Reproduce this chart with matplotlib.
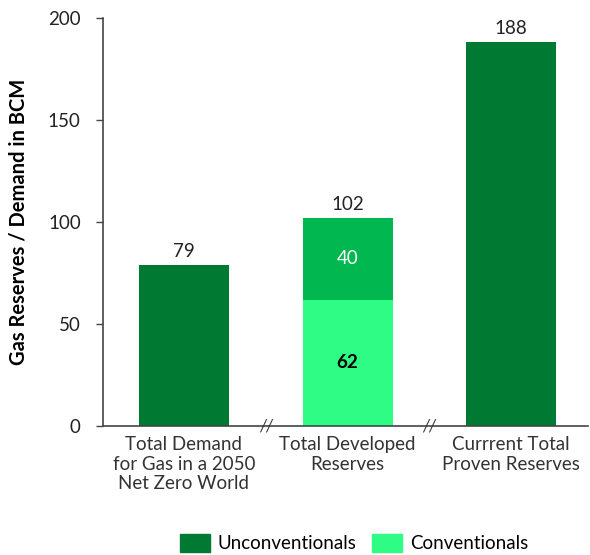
import matplotlib
matplotlib.use("Agg")
import matplotlib.pyplot as plt
from matplotlib.patches import Patch

categories = ["Total Demand\nfor Gas in a 2050\nNet Zero World",
              "Total Developed\nReserves",
              "Currrent Total\nProven Reserves"]
conventionals = [0, 62, 0]
unconventionals = [79, 40, 188]
totals = [79, 102, 188]
y_ticks = [0, 50, 100, 150, 200]

dark = "#007a33"
mid = "#00b84f"
light = "#2efc84"
text_col = "#222222"
fs = 13.5

plt.rcParams["font.family"] = ["Lato", "DejaVu Sans"]

fig = plt.figure(figsize=(5.9, 5.55), dpi=100)
ax = fig.add_axes([103 / 590, 1 - 426 / 555, (588 - 103) / 590, (426 - 18) / 555])

x = list(range(len(categories)))
width = 0.55
ax.bar(x, conventionals, width, color=light, zorder=2)
ax.bar(x, unconventionals, width, bottom=conventionals,
       color=[dark, mid, dark], zorder=2)

for xi, t in zip(x, totals):
    ax.text(xi, t + 2.5, str(t), ha="center", va="bottom", fontsize=fs, color=text_col)
ax.text(1, conventionals[1] + unconventionals[1] / 2, str(unconventionals[1]),
        ha="center", va="center", fontsize=fs, color="white")
ax.text(1, conventionals[1] / 2, str(conventionals[1]),
        ha="center", va="center", fontsize=fs, color="black", fontweight="bold")

ax.set_xlim(-0.495, 2.47)
ax.set_ylim(0, 200)
ax.set_yticks(y_ticks)
ax.set_yticklabels([str(v) for v in y_ticks], fontsize=fs, color=text_col)
ax.set_xticks(x)
ax.set_xticklabels(categories, fontsize=fs, color="#333333", linespacing=1.2)
ax.tick_params(axis="x", length=0, pad=7)
ax.tick_params(axis="y", length=5, width=1, color="#444444", direction="out", pad=11)
for side in ("top", "right"):
    ax.spines[side].set_visible(False)
for side in ("left", "bottom"):
    ax.spines[side].set_color("#444444")
    ax.spines[side].set_linewidth(1.2)

# axis break marks between the bars
for xb in (0.5, 1.5):
    ax.text(xb, 0, "//", ha="center", va="center", fontsize=12, color="#333333",
            style="italic", clip_on=False)

ax.set_ylabel("Gas Reserves / Demand in BCM", fontsize=14.5, fontweight="bold",
              color="black")
ax.yaxis.set_label_coords(-(103 - 29) / 485, 0.5)

handles = [Patch(color=dark, label="Unconventionals"),
           Patch(color=light, label="Conventionals")]
fig.legend(handles=handles, loc="center", bbox_to_anchor=(354 / 590, 1 - 543 / 555),
           ncol=2, frameon=False, fontsize=fs, handlelength=1.6, handleheight=1.1,
           columnspacing=0.8, handletextpad=0.45)

fig.savefig("out.png", dpi=100)
